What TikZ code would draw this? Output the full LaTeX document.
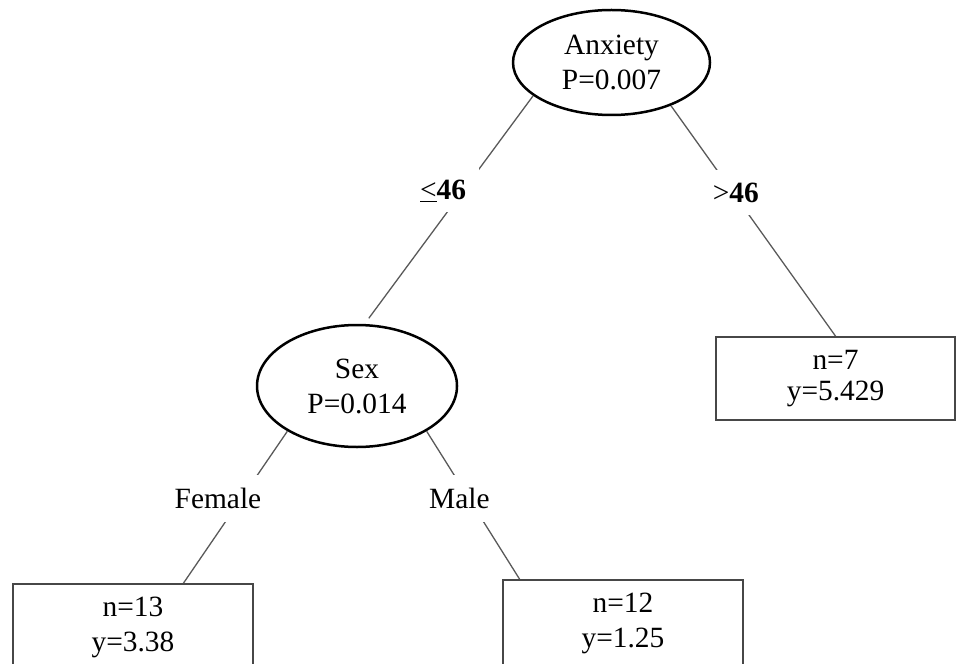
\documentclass[tikz,border=0pt]{standalone}
\usepackage{fontspec}
\setmainfont{Liberation Serif}
\usetikzlibrary{shapes.geometric}

\begin{document}
\begin{tikzpicture}[x=0.5pt,y=-0.5pt,
  font=\fontsize{14.7}{17.5}\selectfont,
  split/.style={ellipse,draw=black,line width=1.25pt,inner sep=0pt,align=center},
  leaf/.style={rectangle,draw=black!72,line width=0.9pt,minimum width=120pt,align=center},
  link/.style={draw=black!65,line width=0.65pt},
  cut/.style={fill=white,inner sep=6.5pt,text depth=0pt}]
\useasboundingbox (0,0) rectangle (956,663);
\clip (0,0) rectangle (956,663);
\node[split,minimum width=98.5pt,minimum height=52.5pt] (anx) at (611.5,62.5) {Anxiety\\P=0.007};
\node[split,minimum width=100pt,minimum height=61pt] (sex) at (357,386) {Sex\\P=0.014};
\node[leaf,minimum height=43pt] (leafA) at (133,627) {n=13\\y=3.38};
\node[leaf,minimum height=43pt] (leafB) at (623,623) {n=12\\y=1.25};
\node[leaf,minimum width=119.5pt,minimum height=41.5pt] (leafC) at (835.5,378.5) {n=7\\[-2pt]y=5.429};
\draw[link,shorten >=3.5pt] (anx.203) -- node[cut,pos=0.41,xshift=-10.5pt] (le) {\underline{<}\textbf{46}} (sex.83);
\draw[link] (anx.324) -- node[cut,pos=0.376,xshift=1.5pt] (gt) {>\textbf{46}} (leafC.north);
\draw[link] (sex.213) -- node[cut,pos=0.443,xshift=-11.7pt] (fem) {Female} (leafA.41);
\draw[link] (sex.327) -- node[cut,pos=0.455,xshift=-4.75pt] (male) {Male} (leafB.157);
\end{tikzpicture}
\end{document}
